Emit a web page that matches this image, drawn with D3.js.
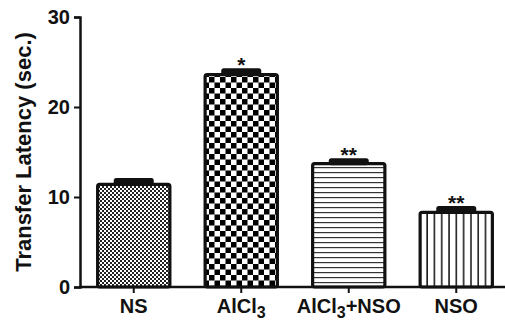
<!DOCTYPE html>
<html lang="en">
<head>
<script src="https://d3js.org/d3.v7.min.js"></script>
<style>
  body { margin: 0; background: #fff; }
  svg text { font-family: Arial, "Liberation Sans", sans-serif; font-weight: bold; fill: #111; }
</style>
</head>
<body>
<script>
  // data
  let groups = ['NS', 'AlCl3', 'AlCl3+NSO', 'NSO'];
  let means = [11.4, 23.6, 13.7, 8.3];
  let sems = [0.7, 0.7, 0.6, 0.7];
  let marks = ['', '*', '**', '**'];
  let yTicks = [0, 10, 20, 30];

  var width = 505, height = 320;

  var svg = d3.select('body').append('svg')
      .attr('width', width)
      .attr('height', height);

  var y = d3.scaleLinear().domain([0, 30]).range([287, 17]);
  var x = d3.scaleBand().domain(groups).range([80, 510])
      .paddingInner(0.3).paddingOuter(0.15);

  // fill patterns
  var defs = svg.append('defs');

  var p1 = defs.append('pattern').attr('id', 'fine')
      .attr('patternUnits', 'userSpaceOnUse').attr('width', 4).attr('height', 4);
  p1.append('rect').attr('width', 4).attr('height', 4).attr('fill', '#fff');
  p1.append('rect').attr('width', 2).attr('height', 2).attr('fill', '#222');
  p1.append('rect').attr('x', 2).attr('y', 2).attr('width', 2).attr('height', 2).attr('fill', '#222');

  var p2 = defs.append('pattern').attr('id', 'coarse')
      .attr('patternUnits', 'userSpaceOnUse').attr('width', 11).attr('height', 11);
  p2.append('rect').attr('width', 11).attr('height', 11).attr('fill', '#fff');
  p2.append('rect').attr('width', 5.5).attr('height', 5.5).attr('fill', '#000');
  p2.append('rect').attr('x', 5.5).attr('y', 5.5).attr('width', 5.5).attr('height', 5.5).attr('fill', '#000');

  var p3 = defs.append('pattern').attr('id', 'hlines')
      .attr('patternUnits', 'userSpaceOnUse').attr('width', 10).attr('height', 5);
  p3.append('rect').attr('width', 10).attr('height', 5).attr('fill', '#fff');
  p3.append('rect').attr('y', 2).attr('width', 10).attr('height', 1.2).attr('fill', '#333');

  var p4 = defs.append('pattern').attr('id', 'vlines')
      .attr('patternUnits', 'userSpaceOnUse').attr('width', 7.3).attr('height', 10);
  p4.append('rect').attr('width', 7.3).attr('height', 10).attr('fill', '#fff');
  p4.append('rect').attr('x', 3).attr('width', 1.5).attr('height', 10).attr('fill', '#111');

  var fills = ['url(#fine)', 'url(#coarse)', 'url(#hlines)', 'url(#vlines)'];

  // bars
  var bar = svg.selectAll('g.bar')
      .data(groups)
      .enter()
      .append('g')
      .attr('class', 'bar');

  bar.append('rect')
      .attr('x', function(d) { return x(d) + 1.5; })
      .attr('y', function(d, i) { return y(means[i]); })
      .attr('width', x.bandwidth() - 3)
      .attr('height', function(d, i) { return y(0) - y(means[i]); })
      .attr('rx', 2)
      .attr('fill', function(d, i) { return fills[i]; })
      .attr('stroke', '#111')
      .attr('stroke-width', 3.2);

  // error bars (upper part only)
  bar.append('rect')
      .attr('x', function(d) { return x(d) + x.bandwidth() / 2 - 20; })
      .attr('y', function(d, i) { return y(means[i] + sems[i]); })
      .attr('width', 40)
      .attr('height', function(d, i) { return y(means[i]) - y(means[i] + sems[i]) + 1.5; })
      .attr('rx', 2.5)
      .attr('fill', '#111');

  bar.append('text')
      .attr('x', function(d) { return x(d) + x.bandwidth() / 2; })
      .attr('y', function(d, i) { return y(means[i] + sems[i]) + 4; })
      .attr('text-anchor', 'middle')
      .style('font-size', '21px')
      .text(function(d, i) { return marks[i]; });

  // y axis
  var yAxis = svg.append('g')
      .attr('transform', 'translate(80,0)')
      .call(d3.axisLeft(y).tickValues(yTicks).tickSize(6).tickPadding(4));
  yAxis.select('.domain').attr('stroke', '#111').attr('stroke-width', 2.5);
  yAxis.selectAll('.tick line').attr('stroke', '#111').attr('stroke-width', 2);
  yAxis.selectAll('.tick text').style('font-size', '20px')
      .style('font-family', 'Arial, "Liberation Sans", sans-serif').style('font-weight', 'bold')
      .attr('fill', '#111');

  // x axis
  var xAxis = svg.append('g')
      .attr('transform', 'translate(0,' + y(0) + ')')
      .call(d3.axisBottom(x).tickSize(6).tickFormat(''));
  xAxis.select('.domain').attr('d', 'M79,0H505').attr('stroke', '#111').attr('stroke-width', 2.5);
  xAxis.selectAll('.tick line').attr('stroke', '#111').attr('stroke-width', 2);

  // category labels with subscript
  var lab = svg.selectAll('text.cat')
      .data(groups)
      .enter()
      .append('text')
      .attr('class', 'cat')
      .attr('x', function(d) { return x(d) + x.bandwidth() / 2; })
      .attr('y', 313)
      .attr('text-anchor', 'middle')
      .style('font-size', '20px');
  lab.each(function(d) {
    var t = d3.select(this);
    var m = d.match(/^AlCl3(.*)$/);
    if (m) {
      t.append('tspan').text('AlCl');
      t.append('tspan').attr('dy', 5).style('font-size', '16px').text('3');
      if (m[1]) t.append('tspan').attr('dy', -5).text(m[1]);
    } else {
      t.text(d);
    }
  });

  // y label
  svg.append('text')
      .attr('transform', 'translate(31,152) rotate(-90)')
      .attr('text-anchor', 'middle')
      .style('font-size', '22px')
      .text('Transfer Latency (sec.)');
</script>
</body>
</html>
